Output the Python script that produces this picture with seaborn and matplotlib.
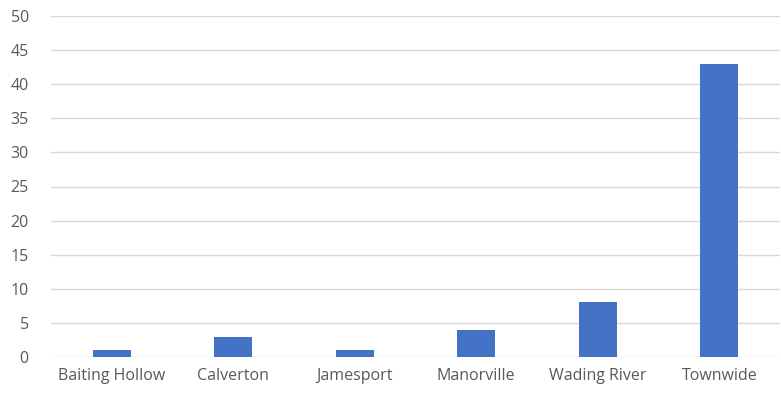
import seaborn as sns
import pandas as pd
import matplotlib.pyplot as plt

places = ["Baiting Hollow", "Calverton", "Jamesport", "Manorville", "Wading River", "Townwide"]
counts = [1, 3, 1, 4, 8, 43]

df = pd.DataFrame({"Place": places, "Count": counts})

sns.set_theme(style="white")
plt.rcParams['font.family'] = ['Open Sans', 'DejaVu Sans']

fig = plt.figure(figsize=(7.81, 4.03), dpi=100)
ax = fig.add_axes([51/781, 1 - 357/403, 729/781, 341/403])

sns.barplot(data=df, x="Place", y="Count", color="#4472C4", width=0.31,
            saturation=1, linewidth=0, ax=ax, zorder=3)

ax.set_ylim(0, 50)
ax.set_yticks(range(0, 51, 5))
ax.grid(axis="y", color="#D9D9D9", linewidth=1, zorder=0)
ax.set_axisbelow(True)
for s in ax.spines.values():
    s.set_visible(False)
ax.set_xlabel("")
ax.set_ylabel("")
ax.tick_params(axis="both", length=0, labelsize=11.5, labelcolor="#595959")
ax.tick_params(axis="y", pad=16)
ax.tick_params(axis="x", pad=8)

plt.savefig("out.png", dpi=100)
